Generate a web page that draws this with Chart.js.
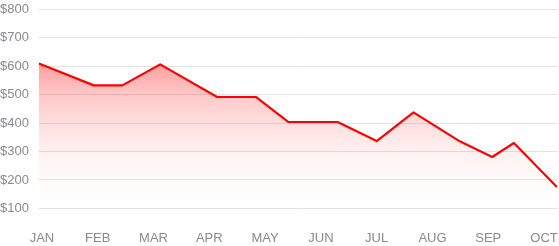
<!DOCTYPE html>
<html>
<head>
<meta charset="utf-8">
<script src="https://cdn.jsdelivr.net/npm/chart.js@4/dist/chart.umd.min.js"></script>
<style>
  html, body { margin: 0; padding: 0; background: #fff; overflow: hidden; }
  canvas { display: block; }
</style>
</head>
<body>
<canvas id="salesChart" width="559" height="246"></canvas>
<script>
// month labels shown on the x axis
const months = ['JAN', 'FEB', 'MAR', 'APR', 'MAY', 'JUN', 'JUL', 'AUG', 'SEP', 'OCT'];

// positions of the points, in months since JAN
const pointMonths = [-0.054, 0.93, 1.44, 2.12, 3.14, 3.84, 4.42, 5.30, 6.00, 6.66, 7.49, 8.07, 8.46, 9.23];
// values in dollars
const sales = [610, 533, 533, 607, 492, 492, 404, 404, 337, 438, 336, 281, 330, 175];

const yTicks = { min: 100, max: 800, step: 100 };
const xRange = { min: -0.054, max: 9.25 };

function Init()
{
    const ctx = document.getElementById('salesChart').getContext('2d');

    const points = [];
    for (let i = 0; i < sales.length; i++)
    {
        points.push({ x: pointMonths[i], y: sales[i] });
    }

    const chartData = {
        datasets: [{
            label: 'Sales',
            data: points,
            borderColor: '#ff0000',
            borderWidth: 2.2,
            borderJoinStyle: 'round',
            pointRadius: 0,
            tension: 0,
            fill: 'start',
            backgroundColor: function (context) {
                const chart = context.chart;
                const area = chart.chartArea;
                if (!area || !chart.scales.y) {
                    return 'rgba(255, 0, 0, 0.2)';
                }
                // fade from the highest point of the line down to the bottom
                const top = chart.scales.y.getPixelForValue(Math.max(...sales));
                const g = chart.ctx.createLinearGradient(0, top, 0, area.bottom);
                g.addColorStop(0, 'rgba(255, 0, 0, 0.38)');
                g.addColorStop(0.21, 'rgba(255, 0, 0, 0.22)');
                g.addColorStop(0.41, 'rgba(255, 0, 0, 0.13)');
                g.addColorStop(0.6, 'rgba(255, 0, 0, 0.06)');
                g.addColorStop(0.81, 'rgba(255, 0, 0, 0.02)');
                g.addColorStop(1, 'rgba(255, 0, 0, 0)');
                return g;
            }
        }]
    };

    const myChart = new Chart(ctx, {
        type: 'line',
        data: chartData,
        options: {
            responsive: false,
            animation: false,
            devicePixelRatio: 1,
            layout: {
                padding: { top: 9.5, right: 1, bottom: 0, left: 0 }
            },
            plugins: {
                legend: { display: false },
                tooltip: { enabled: false }
            },
            scales: {
                x: {
                    type: 'linear',
                    min: xRange.min,
                    max: xRange.max,
                    // no grid lines, tick length only used as a gap above the labels
                    grid: { display: false, drawTicks: true, tickLength: 22 },
                    border: { display: false },
                    ticks: {
                        stepSize: 1,
                        includeBounds: false,
                        autoSkip: false,
                        maxRotation: 0,
                        padding: 0,
                        color: '#8a8a8e',
                        font: { family: 'Liberation Sans', size: 13 },
                        callback: function (value) {
                            return months[value] !== undefined ? months[value] : '';
                        }
                    }
                },
                y: {
                    min: yTicks.min,
                    max: yTicks.max,
                    grid: { color: '#e3e3e3', lineWidth: 1, drawTicks: true, tickLength: 10, tickColor: 'rgba(0,0,0,0)' },
                    border: { display: false },
                    ticks: {
                        stepSize: yTicks.step,
                        padding: 0,
                        color: '#8a8a8e',
                        font: { family: 'Liberation Sans', size: 13 },
                        callback: function (value) {
                            return '$' + value;
                        }
                    }
                }
            }
        }
    });
}

Init();
</script>
</body>
</html>
